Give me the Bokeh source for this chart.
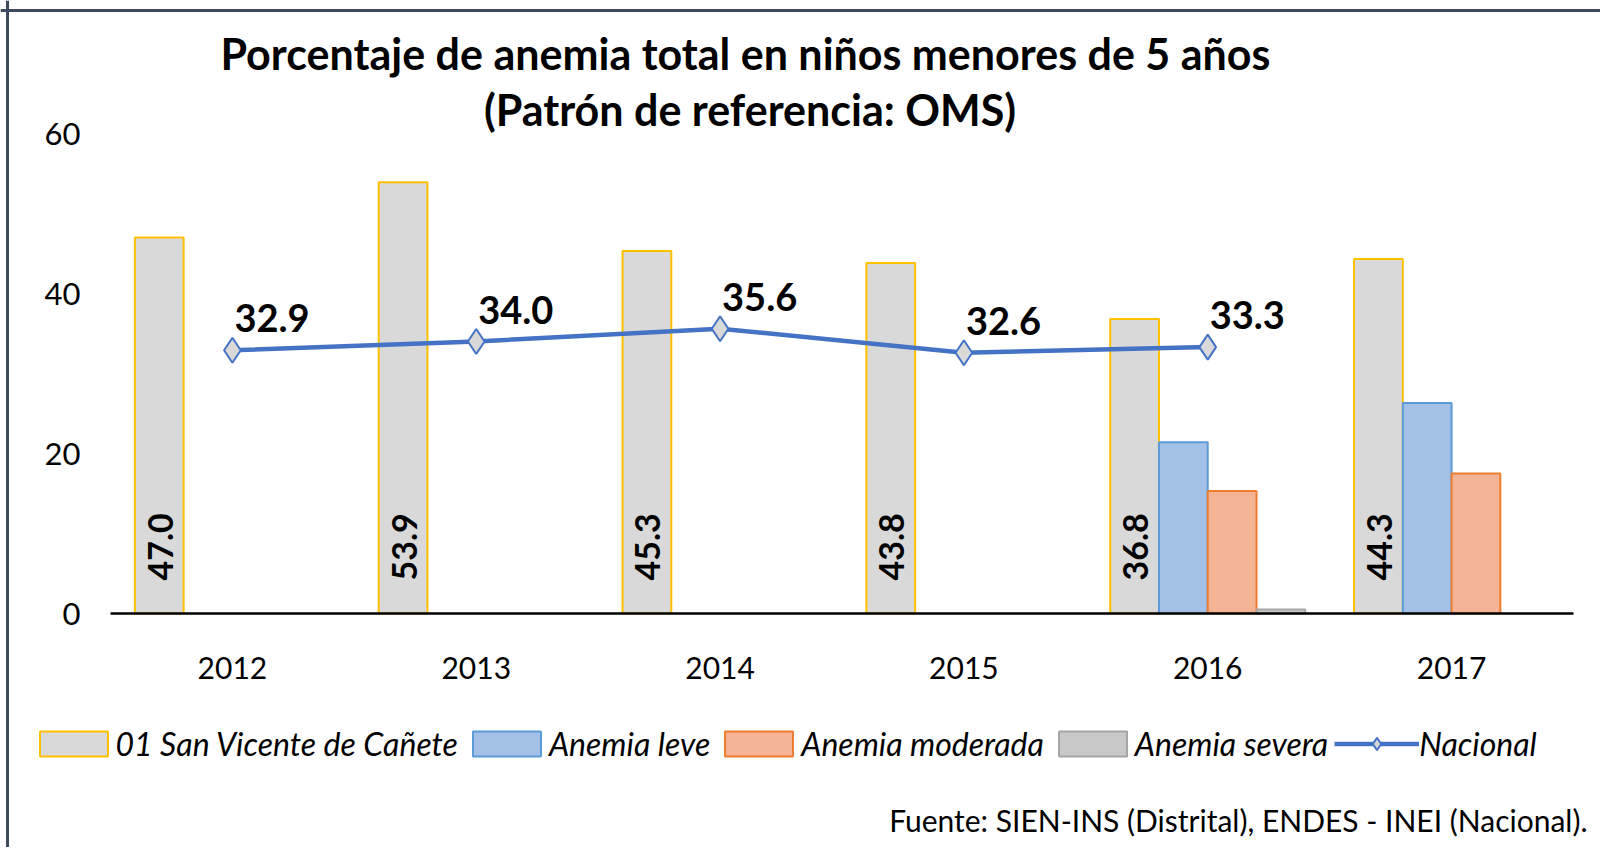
import math
from bokeh.plotting import figure
from bokeh.models import (ColumnDataSource, Range1d, Legend, LegendItem,
                          Label, FixedTicker, Span)
from bokeh.transform import dodge
from bokeh.core.properties import value
from bokeh.embed import file_html
from bokeh.resources import INLINE

# ---------------- data ----------------
years = ["2012", "2013", "2014", "2015", "2016", "2017"]
distrito = [47.0, 53.9, 45.3, 43.8, 36.8, 44.3]
leve_years = ["2016", "2017"]
leve = [21.4, 26.3]
moderada_years = ["2016", "2017"]
moderada = [15.3, 17.5]
severa_years = ["2016"]
severa = [0.5]
nacional_years = ["2012", "2013", "2014", "2015", "2016"]
nacional = [32.9, 34.0, 35.6, 32.6, 33.3]
y_ticks = [0, 20, 40, 60]

series_names = ["01 San Vicente de Cañete", "Anemia leve", "Anemia moderada",
                "Anemia severa", "Nacional"]
title1 = "Porcentaje de anemia total en niños menores de 5 años"
title2 = "(Patrón de referencia:  OMS)"
source_text = "Fuente: SIEN-INS (Distrital), ENDES - INEI (Nacional)."

FONT = "Lato"
BORDER = "#3E4A5D"


def pos(cats):
    return [years.index(c) for c in cats]


p = figure(x_range=Range1d(-0.9511, 5.6108), y_range=Range1d(-29.25, 76.625),
           width=1600, height=847, output_backend="svg", toolbar_location=None,
           min_border_left=0, min_border_right=0, min_border_top=0,
           min_border_bottom=0)
p.xgrid.visible = False
p.ygrid.visible = False
p.outline_line_color = None
p.background_fill_color = "white"
p.border_fill_color = "white"

# axes (placed inside the frame at fixed data locations)
p.yaxis.fixed_location = -0.5
p.yaxis.bounds = (0, 60)
p.yaxis.ticker = FixedTicker(ticks=y_ticks)
p.yaxis.axis_line_color = None
p.yaxis.major_tick_line_color = None
p.yaxis.minor_tick_line_color = None
p.yaxis.major_label_text_font = FONT
p.yaxis.major_label_text_font_size = "31px"
p.yaxis.major_label_text_color = "black"
p.yaxis.major_label_standoff = 24

p.xaxis.fixed_location = 0
p.xaxis.bounds = (-0.5, len(years) - 0.5)
p.xaxis.ticker = FixedTicker(ticks=list(range(len(years))))
p.xaxis.major_label_overrides = {i: y for i, y in enumerate(years)}
p.xaxis.axis_line_color = "black"
p.xaxis.axis_line_width = 2.5
p.xaxis.major_tick_line_color = None
p.xaxis.minor_tick_line_color = None
p.xaxis.major_label_text_font = FONT
p.xaxis.major_label_text_font_size = "30px"
p.xaxis.major_label_text_color = "black"
p.xaxis.major_label_standoff = 37

# sources
src_d = ColumnDataSource(dict(x=pos(years), value=distrito,
                              label=[f"{v:.1f}" for v in distrito]))
src_l = ColumnDataSource(dict(x=pos(leve_years), value=leve))
src_m = ColumnDataSource(dict(x=pos(moderada_years), value=moderada))
src_s = ColumnDataSource(dict(x=pos(severa_years), value=severa))
src_n = ColumnDataSource(dict(x=pos(nacional_years), value=nacional,
                              label=[f"{v:.1f}" for v in nacional]))

# bars
r_d = p.vbar(x=dodge("x", -0.3), top="value", width=0.2, source=src_d,
             fill_color="#D9D9D9", line_color="#FFC000", line_width=2)
r_l = p.vbar(x=dodge("x", -0.1), top="value", width=0.2, source=src_l,
             fill_color="#A3C1E6", line_color="#5B9BD5", line_width=2)
r_m = p.vbar(x=dodge("x", 0.1), top="value", width=0.2, source=src_m,
             fill_color="#F5B396", line_color="#ED7D31", line_width=2)
r_s = p.vbar(x=dodge("x", 0.3), top="value", width=0.2, source=src_s,
             fill_color="#C8C8C8", line_color="#A5A5A5", line_width=2)

p.text(x=dodge("x", -0.3), y=0, text="label", source=src_d,
       angle=math.pi / 2, text_align="left", text_baseline="middle", y_offset=-33,
       x_offset=1, text_font=value(FONT), text_font_style="bold",
       text_font_size="34px", text_color="black")

# national line
r_nl = p.line(x="x", y="value", source=src_n, line_color="#4472C4", line_width=4.5)
r_ns = p.scatter(x="x", y="value", source=src_n, marker="diamond", size=25,
                 fill_color="#D9D9D9", line_color="#4472C4", line_width=2)
p.text(x="x", y="value", text="label", source=src_n, x_offset=2, y_offset=-32,
       text_align="left", text_baseline="alphabetic", text_font=value(FONT),
       text_font_style="bold", text_font_size="38px", text_color="black")

# legend
legend = Legend(items=[
    LegendItem(label=series_names[0], renderers=[r_d]),
    LegendItem(label=series_names[1], renderers=[r_l]),
    LegendItem(label=series_names[2], renderers=[r_m]),
    LegendItem(label=series_names[3], renderers=[r_s]),
    LegendItem(label=series_names[4], renderers=[r_nl, r_ns]),
], orientation="horizontal", location=(30.5, 84), glyph_width=85, glyph_height=31,
    label_height=25, label_standoff=0, spacing=6, padding=0, margin=0,
    border_line_color=None, background_fill_alpha=0, label_text_font=FONT,
    label_text_font_style="italic", label_text_font_size="32px",
    label_text_color="black")
p.add_layout(legend)

# titles and source
p.add_layout(Label(x=2.104, y=70.0, text=title1, text_align="center",
                   text_baseline="alphabetic", text_font=FONT,
                   text_font_style="bold", text_font_size="43px", text_color="black"))
p.add_layout(Label(x=2.144, y=63.0, text=title2, text_align="center",
                   text_baseline="alphabetic", text_font=FONT,
                   text_font_style="bold", text_font_size="43px", text_color="black"))
p.add_layout(Label(x=5.5575, y=-25.8, text=source_text, text_align="right",
                   text_baseline="alphabetic", text_font=FONT,
                   text_font_size="30px", text_color="black"))

# chart-area border (top and left edges)
p.add_layout(Span(location=10, location_units="canvas", dimension="width",
                  line_color=BORDER, line_width=3))
p.add_layout(Span(location=7, location_units="canvas", dimension="height",
                  line_color=BORDER, line_width=3))

open("out.html", "w").write(file_html(p, INLINE))
